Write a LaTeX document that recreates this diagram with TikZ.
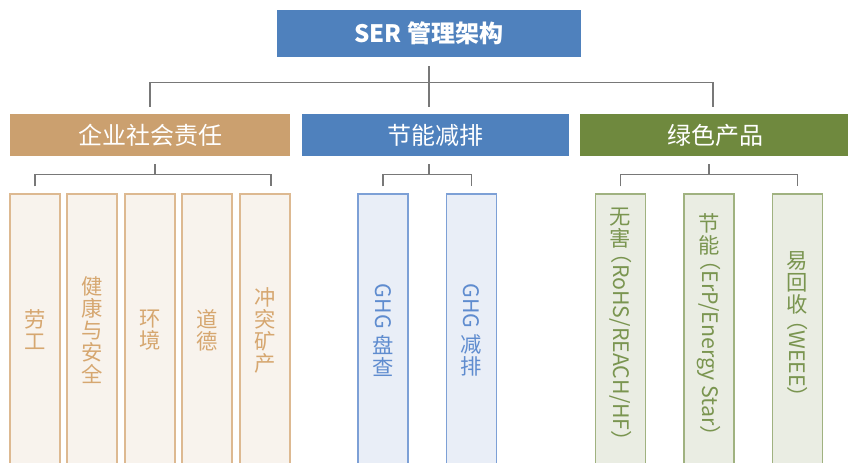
\documentclass[tikz,border=0pt]{standalone}
\usepackage{fontspec}
\setmainfont{Noto Sans CJK SC}
\usetikzlibrary{calc}
\definecolor{topblue}{RGB}{79,129,189}
\definecolor{tan}{RGB}{203,160,111}
\definecolor{olive}{RGB}{111,137,62}
\definecolor{conngray}{RGB}{120,120,120}
\definecolor{tanfill}{RGB}{248,243,237}
\definecolor{tanline}{RGB}{221,185,145}
\definecolor{tantext}{RGB}{214,167,112}
\definecolor{bluefill}{RGB}{233,238,247}
\definecolor{blueline}{RGB}{125,160,214}
\definecolor{bluetext}{RGB}{95,140,207}
\definecolor{greenfill}{RGB}{234,237,227}
\definecolor{greenline}{RGB}{160,178,128}
\definecolor{greentext}{RGB}{122,149,80}
\newcommand\rl[1]{\rotatebox[origin=c]{-90}{#1}}
\begin{document}
\begin{tikzpicture}[x=0.75pt,y=-0.75pt,
  topbox/.style={fill=topblue,text=white,minimum width=228pt,minimum height=35.25pt,inner sep=0pt,font=\fontsize{18}{20}\selectfont\bfseries},
  catbox/.style={fill=#1,text=white,minimum height=31.5pt,inner sep=0pt,font=\fontsize{18}{20}\selectfont},
  leaf/.style={minimum width=37.5pt,minimum height=204pt,inner sep=0pt,line width=1pt,align=center,font=\fontsize{16}{16.5}\selectfont},
  csrleaf/.style={leaf,draw=tanline,fill=tanfill,text=tantext},
  eleaf/.style={leaf,draw=blueline,fill=bluefill,text=bluetext},
  gleaf/.style={leaf,draw=greenline,fill=greenfill,text=greentext},
  conn/.style={draw=conngray,line width=1.1pt}]
\useasboundingbox (0,0) rectangle (848,462);
\begin{scope}
\clip (0,0) rectangle (848,462);
% top
\node[topbox] (top) at (429,33.5) {SER 管理架构};
% categories
\node[catbox=tan,minimum width=210pt] (csr) at (150,135) {企业社会责任};
\node[catbox=topblue,minimum width=200.25pt] (ene) at (435.5,135) {节能减排};
\node[catbox=olive,minimum width=202.5pt] (grn) at (715,135) {绿色产品};
% leaves
\node[csrleaf] (l1) at (35,330) {劳\\工};
\node[csrleaf] (l2) at (92,330) {健\\康\\与\\安\\全};
\node[csrleaf] (l3) at (150,330) {环\\境};
\node[csrleaf] (l4) at (207,330) {道\\德};
\node[csrleaf] (l5) at (265,330) {冲\\突\\矿\\产};
\node[eleaf] (e1) at (383,330) {\rl{GHG\ }\\盘\\查};
\node[eleaf] (e2) at (471.5,330) {\rl{GHG\ }\\减\\排};
\node[gleaf] (g1) at (620.5,330) {无\\害\\\rl{\kern-5pt（RoHS/REACH/HF）}};
\node[gleaf] (g2) at (709,330) {节\\能\\\rl{\kern-5pt（ErP/Energy Star）}};
\node[gleaf] (g3) at (797.5,330) {易\\回\\收\\\rl{\kern-5pt（WEEE）}};
% top connectors
\coordinate (j0) at ($(top.south)+(0,25)$);
\draw[conn] ($(top.south)+(0,9)$) -- ($(top.south |- ene.north)+(0,-7)$);
\draw[conn] ($(csr.north)+(0,-7)$) |- (j0) -| ($(grn.north)+(-2,-7)$);
% CSR bracket
\coordinate (jc) at ($(csr.south)+(5,18)$);
\draw[conn] ($(csr.south)+(5,8)$) -- (jc);
\draw[conn] ($(l1.north)+(0,-7)$) |- (jc) -| ($(l5.north)+(6,-7)$);
% energy bracket
\coordinate (je) at ($(top.south |- ene.south)+(0,18)$);
\draw[conn] ($(top.south |- ene.south)+(0,8)$) -- (je);
\draw[conn] ($(e1.north)+(0,-7)$) |- (je) -| ($(e2.north)+(0,-7)$);
% green bracket
\coordinate (jg) at ($(g2.north |- grn.south)+(0,18)$);
\draw[conn] ($(g2.north |- grn.south)+(0,8)$) -- (jg);
\draw[conn] ($(g1.north)+(0,-7)$) |- (jg) -| ($(g3.north)+(0,-7)$);
\end{scope}
\end{tikzpicture}
\end{document}
